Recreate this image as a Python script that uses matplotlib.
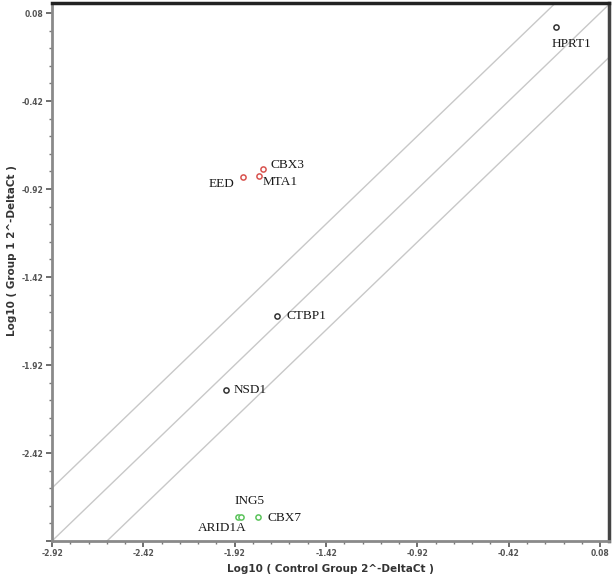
import numpy as np
import matplotlib
matplotlib.use('Agg')
import matplotlib.pyplot as plt
from matplotlib.ticker import MultipleLocator, FixedLocator

# Data (log10 2^-DeltaCt)

genes    = ['HPRT1', 'CBX3', 'MTA1', 'EED', 'CTBP1', 'NSD1', 'ARID1A', 'ING5', 'CBX7']
control  = [-0.16, -1.765, -1.787, -1.875, -1.688, -1.968, -1.902, -1.886, -1.792]
group1   = [0.00, -0.808, -0.848, -0.853, -1.639, -2.060, -2.783, -2.783, -2.783]
status   = ['ns', 'up', 'up', 'up', 'ns', 'ns', 'down', 'down', 'down']

tick_vals   = [-2.92, -2.42, -1.92, -1.42, -0.92, -0.42, 0.08]
tick_labels = ['-2.92', '-2.42', '-1.92', '-1.42', '-0.92', '-0.42', '0.08']
fold_cut    = np.log10(2)

# label offsets in pixels (dx, dy, ha)
label_pos = {
    'HPRT1':  (15, -17, 'center'),
    'CBX3':   (8, 4, 'left'),
    'MTA1':   (4, -6, 'left'),
    'EED':    (-9, -7, 'right'),
    'CTBP1':  (9, 0, 'left'),
    'NSD1':   (8, 0, 'left'),
    'ARID1A': (-16, -11, 'center'),
    'ING5':   (9, 16, 'center'),
    'CBX7':   (9, -1, 'left'),
}

COLORS = {'up': '#d9534f', 'down': '#5cc45c', 'ns': '#333333'}

fig = plt.figure(figsize=(6.13, 5.79), dpi=100)
ax = fig.add_axes([52 / 613, 38 / 579, 557 / 613, 538 / 579])

lo, hi_x, hi_y = -2.92, 0.129, 0.137
ax.set_xlim(lo, hi_x)
ax.set_ylim(lo, hi_y)

# fold-change boundary lines
xs = np.array([lo - 1, hi_x + 1])
for off in (fold_cut, 0.0, -fold_cut):
    ax.plot(xs, xs + off, color='#c8c8c8', linewidth=1.0, zorder=1)

for g, cx, cy, st in zip(genes, control, group1, status):
    ax.scatter(cx, cy, s=14, facecolors='white', edgecolors=COLORS[st],
               linewidths=1.1, zorder=3)
    dx, dy, ha = label_pos[g]
    ax.annotate(g, (cx, cy), xytext=(dx, dy), textcoords='offset pixels',
                ha=ha, va='center', fontsize=9.5, family='Liberation Serif',
                color='#1a1a1a', zorder=4)

# axes styling
ax.xaxis.set_major_locator(FixedLocator(tick_vals))
ax.yaxis.set_major_locator(FixedLocator(tick_vals))
ax.set_xticklabels(tick_labels)
ax.set_yticklabels(['' if t == '-2.92' else t for t in tick_labels])
ax.xaxis.set_minor_locator(MultipleLocator(0.1, offset=0.08))
ax.yaxis.set_minor_locator(MultipleLocator(0.1, offset=0.08))

ax.tick_params(which='major', direction='out', length=4, width=1.2,
               color='#555555', labelsize=5.5, labelcolor='#555555', pad=2)
ax.tick_params(which='minor', direction='out', length=2.5, width=1.0,
               color='#777777')
for lab in ax.get_xticklabels() + ax.get_yticklabels():
    lab.set_fontweight('bold')

ax.spines['left'].set_color('#8a8a8a')
ax.spines['bottom'].set_color('#8a8a8a')
ax.spines['left'].set_linewidth(2.0)
ax.spines['bottom'].set_linewidth(2.0)
ax.spines['top'].set_color('#222222')
ax.spines['right'].set_color('#444444')
ax.spines['top'].set_linewidth(2.5)
ax.spines['right'].set_linewidth(2.5)

ax.set_xlabel('Log10 ( Control Group 2^-DeltaCt )', fontsize=7.5,
              fontweight='bold', color='#333333', labelpad=4)
ax.set_ylabel('Log10 ( Group 1 2^-DeltaCt )', fontsize=7.5,
              fontweight='bold', color='#333333')
ax.yaxis.set_label_coords(-0.063, 0.539)

fig.savefig('out.png', dpi=100)
